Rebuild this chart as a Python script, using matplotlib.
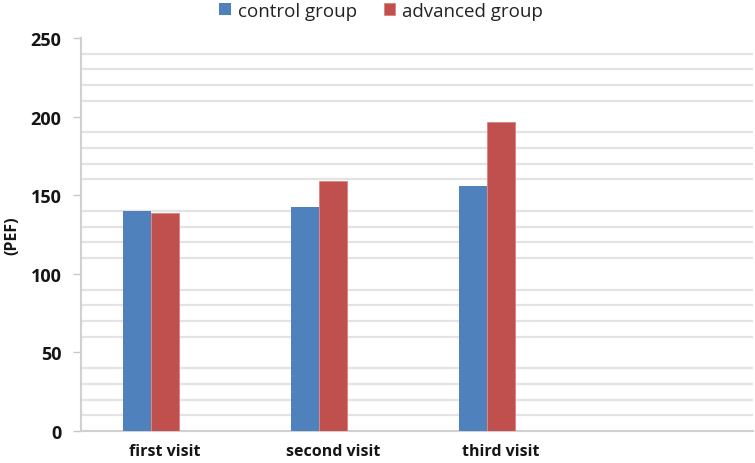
import numpy as np
import matplotlib.pyplot as plt

# data
visits = ["first visit", "second visit", "third visit"]
control_group = [140, 142.5, 156]
advanced_group = [138.5, 159, 196.5]

BLUE = "#4F81BD"
RED = "#C0504D"
GRID = "#E3E3E3"

plt.rcParams["font.family"] = ["Open Sans", "DejaVu Sans"]


def create_graph():
    fig = plt.figure(figsize=(7.55, 4.64), dpi=100)
    ax = fig.add_axes([0.1073, 0.069, 0.8897, 0.847])

    x = np.arange(len(visits))
    width = 1 / 6
    # bars sit left of the category centre (empty third series slot)
    ax.bar(x - width, control_group, width, color=BLUE, label="control group", zorder=3)
    ax.bar(x, advanced_group, width, color=RED, edgecolor="#E07F7C",
           linewidth=0.6, label="advanced group", zorder=3)

    # empty 4th category slot on the right
    ax.set_xlim(-0.5, 3.5)
    ax.set_xticks(x)
    ax.set_xticklabels(visits, fontsize=11.5, fontweight="bold", color="#151515")
    ax.tick_params(axis="x", length=0, pad=9)

    ax.set_ylim(0, 250)
    ax.set_yticks(range(0, 251, 50))
    ax.set_yticklabels([str(v) for v in range(0, 251, 50)], fontsize=13,
                       fontweight="bold", color="#151515")
    ax.tick_params(axis="y", length=6, width=1, color="#C8C8C8", pad=8)

    # minor gridlines only (no lines on the major ticks)
    for v in range(10, 250, 10):
        if v % 50 != 0:
            ax.axhline(v, color=GRID, linewidth=1.6, zorder=1)

    for side in ["top", "right"]:
        ax.spines[side].set_visible(False)
    ax.spines["left"].set_color("#D0D0D0")
    ax.spines["left"].set_linewidth(1.5)
    ax.spines["bottom"].set_color("#D0D0D0")
    ax.spines["bottom"].set_linewidth(1.5)

    ax.set_ylabel("(PEF)", fontsize=11.5, fontweight="bold", color="#151515")
    ax.yaxis.set_label_coords(-0.09, 0.5)

    fig.legend(loc="upper center", bbox_to_anchor=(0.505, 1.03), ncol=2,
               frameon=False, fontsize=13.5, handlelength=0.6, handleheight=0.6,
               handletextpad=0.4, columnspacing=1.4, labelcolor="#222222")

    fig.savefig("out.png", dpi=100)
    plt.close(fig)


if __name__ == "__main__":
    create_graph()
